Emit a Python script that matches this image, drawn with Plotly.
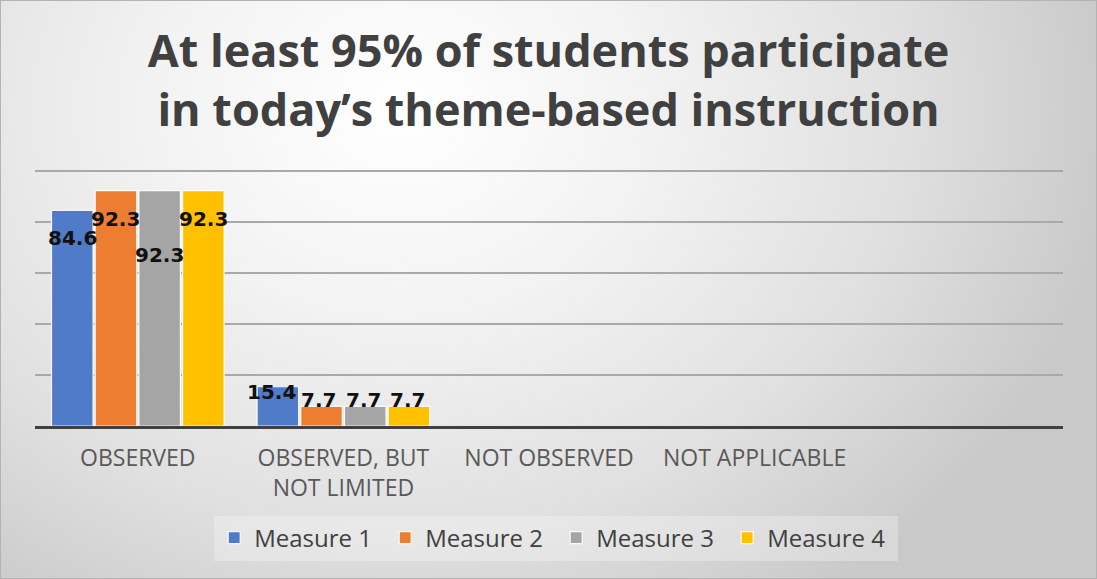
import plotly.graph_objects as go

# ---------------- data ----------------
categories = ["OBSERVED", "OBSERVED, BUT<br>NOT LIMITED", "NOT OBSERVED", "NOT APPLICABLE"]
series_names = ["Measure 1", "Measure 2", "Measure 3", "Measure 4"]
measure_1 = [84.6, 15.4, None, None]
measure_2 = [92.3, 7.7, None, None]
measure_3 = [92.3, 7.7, None, None]
measure_4 = [92.3, 7.7, None, None]
title_text = "At least 95% of students participate<br>in today’s theme-based instruction"

# ---------------- style ----------------
colors = ["#4f7bc8", "#ed7d31", "#a5a5a5", "#ffc000"]
W, H = 1097, 579
plot_x0, plot_x1 = 35, 1063     # px
plot_y_top, plot_y_bot = 170, 426  # px
BARGAP = 0.15
BARGROUPGAP = 0.05
# label offsets (px) relative to the bar top, per series per category
label_dy = [[-28, -5], [-28, 6], [-64, 6], [-28, 6]]
label_dx = [[0, -6], [0, -3], [0, -2], [0, -1]]

series = [measure_1, measure_2, measure_3, measure_4]

fig = go.Figure()

# background radial gradient in a full-paper subplot (drawn first)
cx, cy = 400 / W, 1 - 110 / H
rx, ry = 720 / W, 600 / H
fig.add_trace(go.Scatter(
    x=[cx - rx, cx + rx, cx + rx, cx - rx, cx - rx],
    y=[cy - ry, cy - ry, cy + ry, cy + ry, cy - ry],
    mode="lines", line=dict(width=0), fill="toself",
    fillgradient=dict(type="radial",
                      colorscale=[[0, "#ffffff"], [0.35, "#f2f2f2"], [0.7, "#e0e0e0"], [1, "#c9c9c9"]]),
    hoverinfo="skip", showlegend=False, xaxis="x", yaxis="y",
))

for name, vals, col in zip(series_names, series, colors):
    fig.add_trace(go.Bar(
        x=list(range(len(categories))), y=vals, name=name,
        marker=dict(color=col, line=dict(color="rgba(255,255,255,0.9)", width=1.2)),
        xaxis="x2", yaxis="y2",
    ))

# data labels
n = len(series)
slot = (1 - BARGAP) / n
annotations = []
for i, vals in enumerate(series):
    for j, v in enumerate(vals):
        if v is None:
            continue
        annotations.append(dict(
            x=j + (i - (n - 1) / 2) * slot, y=v, xref="x2", yref="y2",
            text=f"{v:.1f}", showarrow=False,
            xanchor="center", yanchor="middle",
            xshift=label_dx[i][j], yshift=label_dy[i][j],
            font=dict(family="DejaVu Sans", size=20, color="#111111", weight=700),
        ))

fig.update_layout(
    width=W, height=H,
    margin=dict(l=0, r=0, t=0, b=0),
    paper_bgcolor="#d6d6d6",
    plot_bgcolor="rgba(0,0,0,0)",
    barmode="group", bargap=BARGAP, bargroupgap=BARGROUPGAP,
    title=dict(text=title_text, x=0.5, xanchor="center", xref="paper",
               y=1 - 67 / H, yanchor="middle", yref="container",
               font=dict(family="Open Sans", size=45, color="#404040", weight=700)),
    xaxis=dict(domain=[0, 1], range=[0, 1], visible=False, fixedrange=True),
    yaxis=dict(domain=[0, 1], range=[0, 1], visible=False, fixedrange=True),
    xaxis2=dict(domain=[plot_x0 / W, plot_x1 / W], anchor="y2",
                range=[-0.5, 4.5], tickmode="array",
                tickvals=list(range(len(categories))), ticktext=categories,
                showgrid=False, zeroline=False,
                showline=True, linecolor="#404040", linewidth=2.5,
                ticks="", ticklabelstandoff=10,
                tickfont=dict(family="Open Sans", size=23, color="#595959")),
    yaxis2=dict(domain=[1 - plot_y_bot / H, 1 - plot_y_top / H], anchor="x2",
                range=[0, 100.4], tickmode="array", tickvals=[0, 20, 40, 60, 80, 100],
                showticklabels=False,
                showgrid=True, gridcolor="#a9a9a9", gridwidth=1.5,
                zeroline=False),
    legend=dict(orientation="h", x=0.507, xanchor="center", y=1 - 538 / H, yanchor="middle",
                bgcolor="rgba(255,255,255,0.28)", itemwidth=30,
                entrywidth=126, entrywidthmode="pixels",
                font=dict(family="Open Sans", size=24, color="#404040")),
    annotations=annotations,
    shapes=[dict(type="rect", xref="paper", yref="paper", x0=0, x1=1, y0=0, y1=1,
                 line=dict(color="#b3b3b3", width=2), layer="above")],
    showlegend=True,
)

fig.write_html("out.html")
